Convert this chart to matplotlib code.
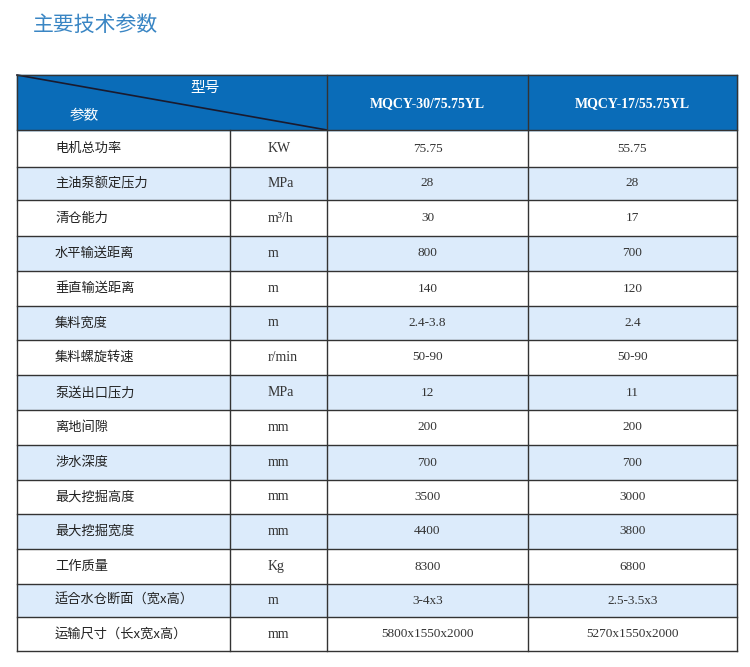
import matplotlib
matplotlib.use("Agg")
import matplotlib.pyplot as plt
from matplotlib.patches import Rectangle
from matplotlib import font_manager as fm

title = "主要技术参数"
models = ["MQCY-30/75.75YL", "MQCY-17/55.75YL"]
params = ["电机总功率", "主油泵额定压力", "清仓能力", "水平输送距离", "垂直输送距离", "集料宽度",
          "集料螺旋转速", "泵送出口压力", "离地间隙", "涉水深度", "最大挖掘高度", "最大挖掘宽度",
          "工作质量", "适合水仓断面（宽x高）", "运输尺寸（长x宽x高）"]
units = ["KW", "MPa", "m³/h", "m", "m", "m", "r/min", "MPa", "mm", "mm", "mm", "mm", "Kg", "m", "mm"]
model1 = ["75.75", "28", "30", "800", "140", "2.4-3.8", "50-90", "12", "200", "700", "3500", "4400",
          "8300", "3-4x3", "5800x1550x2000"]
model2 = ["55.75", "28", "17", "700", "120", "2.4", "50-90", "11", "200", "700", "3000", "3800",
          "6800", "2.5-3.5x3", "5270x1550x2000"]

cjk_path = None
for f in fm.findSystemFonts():
    if "CJK" in f or "cjk" in f.lower():
        cjk_path = f
        if "Regular" in f:
            break
def cjk(size, bold=False):
    if cjk_path:
        return fm.FontProperties(fname=cjk_path, size=size, weight="bold" if bold else "normal")
    return fm.FontProperties(family="Noto Sans CJK SC", size=size)

W, H = 750, 667
fig = plt.figure(figsize=(7.5, 6.67), dpi=100)
ax = fig.add_axes([0, 0, 1, 1])
ax.set_xlim(0, W); ax.set_ylim(H, 0); ax.axis("off")

cols = [17, 230, 327, 528, 737]
htop, hbot = 75, 130
rows = [130, 167, 200, 236, 271, 306, 340, 375, 410, 445, 480, 514, 549, 584, 617, 651]
blue = "#0a6cb8"; light = "#dcebfb"; line = "#333333"

ax.text(33, 25, title, color="#3a86c4", va="center", ha="left", fontproperties=cjk(15, True))

ax.add_patch(Rectangle((cols[0], htop), cols[-1]-cols[0], hbot-htop, color=blue))
ax.plot([cols[0], cols[2]], [htop, hbot], color="#1a1a2e", lw=1.2)
ax.text(205, 88, "型号", color="white", ha="center", va="center", fontproperties=cjk(10.5, True))
ax.text(84, 116, "参数", color="white", ha="center", va="center", fontproperties=cjk(10.5, True))
for i, m in enumerate(models):
    ax.text((cols[2+i]+cols[3+i])/2, 104, m, color="white", fontsize=10, ha="center", va="center",
            family="Liberation Serif", fontweight="bold")

for i in range(len(params)):
    y0, y1 = rows[i], rows[i+1]
    if i % 2 == 1:
        ax.add_patch(Rectangle((cols[0], y0), cols[-1]-cols[0], y1-y0, color=light, lw=0))
    yc = (y0+y1)/2
    ax.text(55, yc, params[i], ha="left", va="center", color="#222", fontproperties=cjk(9.5))
    ax.text(268, yc, units[i], fontsize=10, ha="left", va="center", color="#333", family="Liberation Serif")
    ax.text((cols[2]+cols[3])/2, yc, model1[i], fontsize=9.5, ha="center", va="center", color="#333", family="Liberation Serif")
    ax.text((cols[3]+cols[4])/2, yc, model2[i], fontsize=9.5, ha="center", va="center", color="#333", family="Liberation Serif")

for y in rows:
    ax.plot([cols[0], cols[-1]], [y, y], color=line, lw=1)
ax.plot([cols[0], cols[-1]], [htop, htop], color=line, lw=1)
for j, x in enumerate(cols):
    top = htop if j in (0, 2, 3, 4) else hbot
    ax.plot([x, x], [top, rows[-1]], color=line, lw=1)

fig.savefig("out.png", dpi=100, facecolor="white")
